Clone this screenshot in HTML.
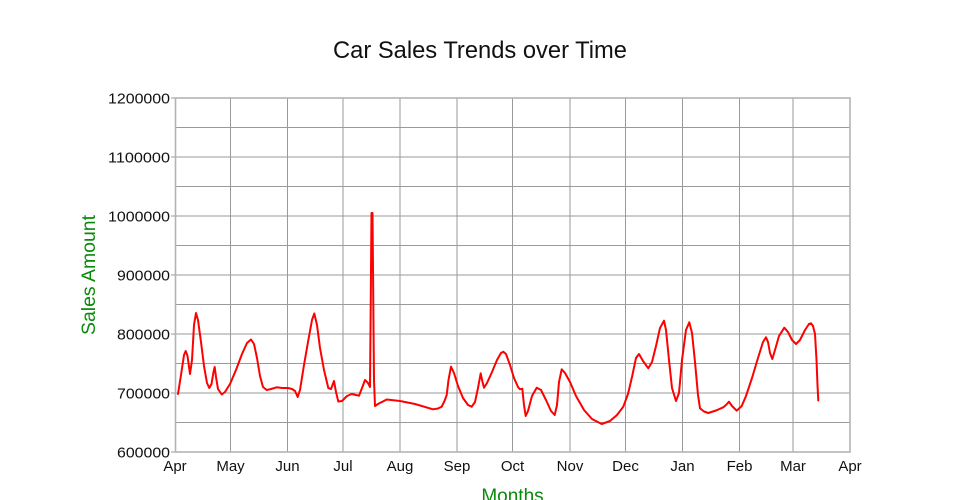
<!DOCTYPE html>
<html>
<head>
<meta charset="utf-8">
<style>
  html, body { margin:0; padding:0; background:#ffffff; }
  svg { display:block; }
  text { font-family: "Liberation Sans", "DejaVu Sans", sans-serif; }
</style>
</head>
<body>
<svg width="960" height="500" viewBox="0 0 960 500" xmlns="http://www.w3.org/2000/svg">
  <rect x="0" y="0" width="960" height="500" fill="#ffffff"/>

  <!-- Title -->
  <text x="480" y="58" font-size="24" text-anchor="middle" fill="#111" textLength="294" lengthAdjust="spacingAndGlyphs">Car Sales Trends over Time</text>

  <!-- Horizontal grid lines -->
  <g stroke="#9a9a9a" stroke-width="1" fill="none">
    <line x1="175" y1="127.5" x2="850" y2="127.5"/>
    <line x1="175" y1="157" x2="850" y2="157"/>
    <line x1="175" y1="186.5" x2="850" y2="186.5"/>
    <line x1="175" y1="216" x2="850" y2="216"/>
    <line x1="175" y1="245.5" x2="850" y2="245.5"/>
    <line x1="175" y1="275" x2="850" y2="275"/>
    <line x1="175" y1="304.5" x2="850" y2="304.5"/>
    <line x1="175" y1="334" x2="850" y2="334"/>
    <line x1="175" y1="363.5" x2="850" y2="363.5"/>
    <line x1="175" y1="393" x2="850" y2="393"/>
    <line x1="175" y1="422.5" x2="850" y2="422.5"/>
  </g>
  <!-- Vertical grid lines -->
  <g stroke="#9a9a9a" stroke-width="1" fill="none">
    <line x1="230.5" y1="98" x2="230.5" y2="452"/>
    <line x1="287.5" y1="98" x2="287.5" y2="452"/>
    <line x1="343" y1="98" x2="343" y2="452"/>
    <line x1="400" y1="98" x2="400" y2="452"/>
    <line x1="457" y1="98" x2="457" y2="452"/>
    <line x1="512.5" y1="98" x2="512.5" y2="452"/>
    <line x1="570" y1="98" x2="570" y2="452"/>
    <line x1="625.5" y1="98" x2="625.5" y2="452"/>
    <line x1="682.5" y1="98" x2="682.5" y2="452"/>
    <line x1="739.5" y1="98" x2="739.5" y2="452"/>
    <line x1="793" y1="98" x2="793" y2="452"/>
  </g>

  <!-- Frame -->
  <rect x="175.5" y="98" width="674.5" height="354" fill="none" stroke="#b4b4b4" stroke-width="1.6"/>

  <!-- Y ticks -->
  <g stroke="#9a9a9a" stroke-width="1">
    <line x1="171" y1="98" x2="175" y2="98"/>
    <line x1="171" y1="157" x2="175" y2="157"/>
    <line x1="171" y1="216" x2="175" y2="216"/>
    <line x1="171" y1="275" x2="175" y2="275"/>
    <line x1="171" y1="334" x2="175" y2="334"/>
    <line x1="171" y1="393" x2="175" y2="393"/>
    <line x1="171" y1="452" x2="175" y2="452"/>
  </g>

  <!-- Y labels -->
  <g font-size="15" fill="#111" text-anchor="end">
    <text x="170" y="103.5" textLength="62" lengthAdjust="spacingAndGlyphs">1200000</text>
    <text x="170" y="162.5" textLength="62" lengthAdjust="spacingAndGlyphs">1100000</text>
    <text x="170" y="221.5" textLength="62" lengthAdjust="spacingAndGlyphs">1000000</text>
    <text x="170" y="280.5" textLength="53" lengthAdjust="spacingAndGlyphs">900000</text>
    <text x="170" y="339.5" textLength="53" lengthAdjust="spacingAndGlyphs">800000</text>
    <text x="170" y="398.5" textLength="53" lengthAdjust="spacingAndGlyphs">700000</text>
    <text x="170" y="457.5" textLength="53" lengthAdjust="spacingAndGlyphs">600000</text>
  </g>

  <!-- X labels -->
  <g font-size="15" fill="#111" text-anchor="middle">
    <text x="175" y="471">Apr</text>
    <text x="230.5" y="471">May</text>
    <text x="287.5" y="471">Jun</text>
    <text x="343" y="471">Jul</text>
    <text x="400" y="471">Aug</text>
    <text x="457" y="471">Sep</text>
    <text x="512.5" y="471">Oct</text>
    <text x="570" y="471">Nov</text>
    <text x="625.5" y="471">Dec</text>
    <text x="682.5" y="471">Jan</text>
    <text x="739.5" y="471">Feb</text>
    <text x="793" y="471">Mar</text>
    <text x="850" y="471">Apr</text>
  </g>

  <!-- Axis titles -->
  <text x="512.5" y="502" font-size="19" fill="#0a8a0a" text-anchor="middle">Months</text>
  <text transform="translate(95,275) rotate(-90)" x="0" y="0" font-size="19" fill="#0a8a0a" text-anchor="middle" textLength="120" lengthAdjust="spacingAndGlyphs">Sales Amount</text>

  <!-- Series -->
  <polyline fill="none" stroke="#ff0000" stroke-width="2" stroke-linejoin="round" stroke-linecap="round" points="
178,394 181,375 184,355 185.7,351 187.5,356 190,374 192,360 194,325 196,313 198,320 201,342 204,366 207,383 209.3,388 211.5,384 213.5,372 214.7,367 216,377 218,389 221.7,394.5 225,392 230,384 236,370 242,354 247,343 251,339.5 254,344 257,358 260,376 263,387 266.7,390 271,389 276.7,387.3 282,388 288,388 292,389 295,391 297.7,397 300,390 304,365 308,342 312,320 314.3,313.5 317,325 320,348 324,370 328.3,388 331,389 334,381 336,392 338.3,401.5 342,401 347,396 351.7,394 356,395 359,395.7 362,388 365,380 368,383 370,387 371.5,213 372.5,213 374,380 375,406 378,404 386.7,399.5 400,401 415,404 433,409.3 438,408.5 441.7,406.7 444.5,401 446.7,395 448.5,380 451,366.7 454,373 458,386 463,398 468,405 471.7,406.7 475,402 478,388 480.7,373.3 482.5,382 484,387.7 487,383 492,372 497,360 501,353 503.3,351.7 506,354 510,365 514,378 518,387 520,389.3 522.3,388.7 524,405 525.7,416 528,411 532,396 536.7,387.7 541,390 546,400 551,411 554.7,415 557,405 559,382 561.7,369.3 565,373 570,382 576,396 584,410 592,419 601.7,424 610,421 617,415 623.3,406.7 628,394 632,377 636,358 639,354 643,361 648.3,368.3 652,362 656,346 660,328 664,320.7 666,330 669,360 672,388 676,401 679,393 682,360 686,330 689.3,322.3 692,333 695,362 698,395 700,408.3 704,411.5 708.3,413 716,410.5 723.3,407.3 726,405 729,401.7 732,406 736.7,410.7 741.7,406 746,396 752,378 758,358 763,342 766,337.3 768,342 770,353 772.3,359 775,350 779,336 784.3,327.7 788,332 792,340 796,344 800,340 805,330 809,324 811,323.3 813,326 815,334 816.5,360 817.5,385 818.3,400.5"/>
</svg>
</body>
</html>
